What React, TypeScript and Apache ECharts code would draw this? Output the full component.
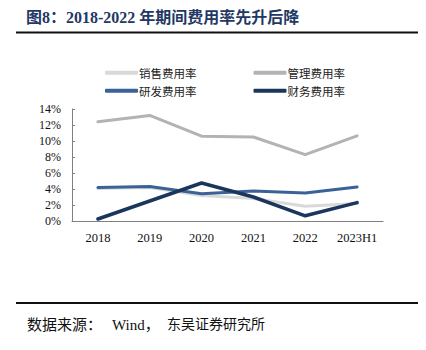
import React, { useEffect, useRef } from "react";
import * as echarts from "echarts";

const categories = ["2018", "2019", "2020", "2021", "2022", "2023H1"];
const salesRate = [4.05, 4.2, 3.2, 2.8, 1.85, 2.2];
const adminRate = [12.4, 13.2, 10.6, 10.5, 8.3, 10.65];
const rdRate = [4.2, 4.3, 3.4, 3.75, 3.5, 4.25];
const financeRate = [0.25, 2.5, 4.75, 3.0, 0.65, 2.3];
const seriesNames = ["销售费用率", "管理费用率", "研发费用率", "财务费用率"];
const titleText = "图8：2018-2022 年期间费用率先升后降";
const sourceParts = ["数据来源：", "Wind，", "东吴证券研究所"];

const colors = ["#d9d9d9", "#b3b3b3", "#3b6296", "#1b365d"];
const serif = "'Liberation Serif', 'Times New Roman', 'Noto Sans CJK SC', serif";

export default function App() {
  const ref = useRef<HTMLDivElement>(null);
  useEffect(() => {
    document.body.style.margin = "0";
    const chart = echarts.init(ref.current!, null, { renderer: "svg" });
    const legendText = {
      fontFamily: "'Noto Sans CJK SC', sans-serif",
      fontSize: 11.5,
      color: "#222",
      padding: [0, 0, 0, -4],
    };
    const data = [salesRate, adminRate, rdRate, financeRate];
    const legendBase = {
      left: 100,
      itemWidth: 33,
      itemHeight: 4,
      itemGap: 57,
      icon: "roundRect",
      textStyle: legendText,
    };
    chart.setOption({
      animation: false,
      color: colors,
      grid: { left: 72, right: 43, top: 109, bottom: 129, containLabel: false },
      legend: [
        { ...legendBase, data: [seriesNames[0], seriesNames[1]], top: 62 },
        { ...legendBase, data: [seriesNames[2], seriesNames[3]], top: 80 },
      ],
      xAxis: {
        type: "category",
        data: categories,
        axisLine: { lineStyle: { color: "#808080", width: 1 } },
        axisTick: { inside: true, length: 4, lineStyle: { color: "#808080" } },
        axisLabel: { interval: 0, fontFamily: serif, fontSize: 12.5, color: "#111", margin: 11 },
      },
      yAxis: {
        type: "value",
        min: 0,
        max: 14,
        interval: 2,
        splitLine: { show: false },
        axisLine: { show: true, lineStyle: { color: "#808080", width: 1 } },
        axisTick: { show: true, inside: true, length: 3, lineStyle: { color: "#808080" } },
        axisLabel: { formatter: "{value}%", fontFamily: serif, fontSize: 12, color: "#111", margin: 11 },
      },
      series: seriesNames.map((name, i) => ({
        name,
        type: "line",
        data: data[i],
        symbol: "none",
        lineStyle: { width: i === 3 ? 3.5 : 3, color: colors[i], cap: "round", join: "round" },
        itemStyle: { color: colors[i] },
      })),
      graphic: [
        {
          type: "text",
          left: 26,
          top: 9,
          style: {
            text: titleText,
            fontFamily: serif,
            fontWeight: "bold",
            fontSize: 16,
            fill: "#1f3864",
          },
        },
        {
          type: "line",
          shape: { x1: 16, y1: 32.5, x2: 418, y2: 32.5 },
          style: { stroke: "#111", lineWidth: 2 },
        },
        {
          type: "line",
          shape: { x1: 16, y1: 303, x2: 418, y2: 303 },
          style: { stroke: "#111", lineWidth: 2 },
        },
        {
          type: "text",
          left: 27,
          top: 317,
          style: { text: sourceParts[0], fontFamily: serif, fontSize: 15, fill: "#111" },
        },
        {
          type: "text",
          left: 112,
          top: 317,
          style: { text: sourceParts[1], fontFamily: serif, fontSize: 15, fill: "#111" },
        },
        {
          type: "text",
          left: 167,
          top: 317.5,
          style: { text: sourceParts[2], fontFamily: serif, fontSize: 14, fill: "#111" },
        },
      ],
    });
    return () => chart.dispose();
  }, []);
  return <div ref={ref} style={{ width: 426, height: 350 }} />;
}
